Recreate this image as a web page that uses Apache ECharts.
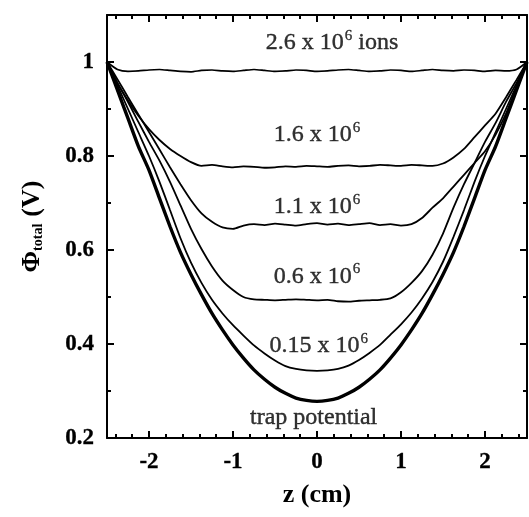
<!DOCTYPE html>
<html>
<head>
<meta charset="utf-8">
<title>Phi total vs z</title>
<script src="https://cdn.jsdelivr.net/npm/echarts@6/dist/echarts.min.js"></script>
<style>
html,body{margin:0;padding:0;background:#fff;}
#J_Main{width:529px;height:517px;}
</style>
</head>
<body>
<div id="J_Main"></div>
<script>
// positions along the trap axis (cm)
var zPos=[-2.5,-2.375,-2.25,-2.125,-2,-1.875,-1.75,-1.625,-1.5,-1.375,-1.25,-1.125,-1,-0.875,-0.75,-0.625,-0.5,-0.375,-0.25,-0.125,
    0,0.125,0.25,0.375,0.5,0.625,0.75,0.875,1,1.125,1.25,1.375,1.5,1.625,1.75,1.875,2,2.125,2.25,2.375,2.5];

// potential curves (V), one per ion number
var phi26=[1.0,0.984,0.980,0.981,0.983,0.984,0.982,0.980,0.979,0.982,0.983,0.981,0.980,0.982,0.984,0.982,0.980,0.981,0.983,0.982,
    0.980,0.981,0.983,0.984,0.982,0.980,0.981,0.983,0.982,0.980,0.982,0.984,0.982,0.981,0.983,0.982,0.980,0.982,0.981,0.984,1.0];
var phi16=[1.0,0.955,0.918,0.885,0.857,0.834,0.815,0.80,0.787,0.779,0.781,0.778,0.776,0.778,0.777,0.775,0.776,0.778,0.777,0.779,
    0.778,0.777,0.779,0.780,0.778,0.779,0.781,0.780,0.779,0.781,0.780,0.779,0.784,0.797,0.815,0.84,0.865,0.89,0.925,0.962,1.0];
var phi11=[1.0,0.963,0.925,0.888,0.851,0.814,0.776,0.74,0.706,0.678,0.66,0.648,0.645,0.652,0.655,0.653,0.656,0.654,0.652,0.655,
    0.657,0.654,0.656,0.653,0.655,0.657,0.653,0.655,0.652,0.655,0.668,0.69,0.71,0.735,0.76,0.785,0.81,0.845,0.89,0.945,1.0];
var phi06=[1.0,0.955,0.915,0.872,0.83,0.79,0.745,0.695,0.645,0.602,0.565,0.535,0.515,0.50,0.495,0.494,0.493,0.494,0.495,0.494,
    0.493,0.494,0.491,0.490,0.492,0.493,0.494,0.497,0.51,0.53,0.555,0.59,0.635,0.69,0.74,0.785,0.83,0.87,0.915,0.955,1.0];
var phi015=[1.0,0.95,0.90,0.85,0.80,0.745,0.685,0.625,0.573,0.53,0.494,0.465,0.44,0.418,0.397,0.38,0.365,0.353,0.347,0.344,
    0.343,0.344,0.347,0.354,0.366,0.381,0.398,0.42,0.442,0.467,0.497,0.532,0.575,0.628,0.685,0.745,0.80,0.85,0.90,0.95,1.0];
var phiTrap=[1.0,0.94,0.88,0.82,0.77,0.71,0.65,0.595,0.548,0.505,0.465,0.43,0.398,0.37,0.345,0.325,0.308,0.295,0.285,0.28,
    0.278,0.28,0.285,0.295,0.308,0.325,0.345,0.37,0.398,0.43,0.465,0.505,0.548,0.595,0.65,0.71,0.77,0.82,0.88,0.94,1.0];

// curve labels and where they sit (z, phi)
var curveNames=['2.6 x 10{s|6} ions','1.6 x 10{s|6}','1.1 x 10{s|6}','0.6 x 10{s|6}','0.15 x 10{s|6}','trap potential'];
var nameZ=[0.18,0,0,0,0.02,-0.04];
var namePhi=[1.04,0.845,0.692,0.544,0.396,0.244];

// ticks
var zMajor=[-2,-1,0,1,2];
var zMinor=[-2.4,-2.2,-1.8,-1.6,-1.4,-1.2,-0.8,-0.6,-0.4,-0.2,0.2,0.4,0.6,0.8,1.2,1.4,1.6,1.8,2.2,2.4];
var phiMajor=[0.2,0.4,0.6,0.8,1.0];
var phiMinor=[0.3,0.5,0.7,0.9];

var serif='"Liberation Serif","DejaVu Serif",serif';

function pairs(ys){
    return zPos.map(function(z,i){return [z,ys[i]]});
}

function tickAxis(dir,pos,values,len,withLine){
    var ax={
        type:'value',
        position:pos,
        min:dir=='x'?-2.5:0.2,
        max:dir=='x'?2.5:1.1,
        axisLine:{show:withLine,onZero:false,lineStyle:{color:'#000',width:2}},
        axisTick:{show:true,inside:true,length:len,customValues:values,lineStyle:{color:'#000',width:2}},
        axisLabel:{show:false},
        splitLine:{show:false}
    };
    return ax;
}

var viewContainer=document.getElementById("J_Main");
var myChart=echarts.init(viewContainer);

var tickFont={show:true,margin:13,color:'#000',fontSize:23,fontWeight:'bold',fontFamily:serif,textBorderColor:'#000',textBorderWidth:0.3};

var xMain=tickAxis('x','bottom',zMajor,7,true);
xMain.axisLabel=Object.assign({customValues:zMajor},tickFont);
xMain.name='z (cm)';
xMain.nameLocation='middle';
xMain.nameGap=44;
xMain.nameTextStyle={color:'#000',fontSize:26,fontWeight:'bold',fontFamily:serif};

var yMain=tickAxis('y','left',phiMajor,7,true);
yMain.axisLabel=Object.assign({customValues:phiMajor},tickFont);
yMain.name='{p|Φ}{s|total}{g|  }{p|(V)}';
yMain.nameLocation='middle';
yMain.nameRotate=90;
yMain.nameGap=62;
yMain.nameTextStyle={
    color:'#000',fontFamily:serif,
    rich:{
        p:{fontSize:26,fontWeight:'bold',fontFamily:serif,color:'#000'},
        s:{fontSize:14,fontWeight:'bold',fontFamily:serif,color:'#000',verticalAlign:'bottom',padding:[8,0,0,0]},
        g:{fontSize:14}
    }
};

var lineSeries=[
    {d:phi26,w:1.7},{d:phi16,w:1.8},{d:phi11,w:1.8},{d:phi06,w:1.8},{d:phi015,w:1.8},{d:phiTrap,w:3.4}
].map(function(item){
    return {
        type:'line',
        xAxisIndex:0,
        yAxisIndex:0,
        data:pairs(item.d),
        showSymbol:false,
        symbol:'none',
        smooth:0.2,
        lineStyle:{color:'#000',width:item.w},
        z:3
    };
});

var option={
    animation:false,
    backgroundColor:'#fff',
    grid:{left:107,right:2,top:15,bottom:79},
    xAxis:[xMain,tickAxis('x','bottom',zMinor,4,false),tickAxis('x','top',zMajor,7,true),tickAxis('x','top',zMinor,4,false)],
    yAxis:[yMain,tickAxis('y','left',phiMinor,4,false),tickAxis('y','right',phiMajor,7,true),tickAxis('y','right',phiMinor,4,false)],
    series:lineSeries.concat([{
        type:'scatter',
        xAxisIndex:0,
        yAxisIndex:0,
        symbolSize:0,
        silent:true,
        data:curveNames.map(function(n,i){return {value:[nameZ[i],namePhi[i]],name:n}}),
        label:{
            show:true,
            position:'inside',
            formatter:function(p){return p.name},
            color:'#000',
            fontSize:24,
            fontFamily:serif,
            textBorderColor:'#000',
            textBorderWidth:0.4,
            rich:{
                s:{fontSize:15,fontFamily:serif,color:'#000',textBorderColor:'#000',textBorderWidth:0.3,verticalAlign:'top',padding:[0,0,14,1]}
            }
        },
        z:5
    }])
};
myChart.setOption(option);
</script>
</body>
</html>
